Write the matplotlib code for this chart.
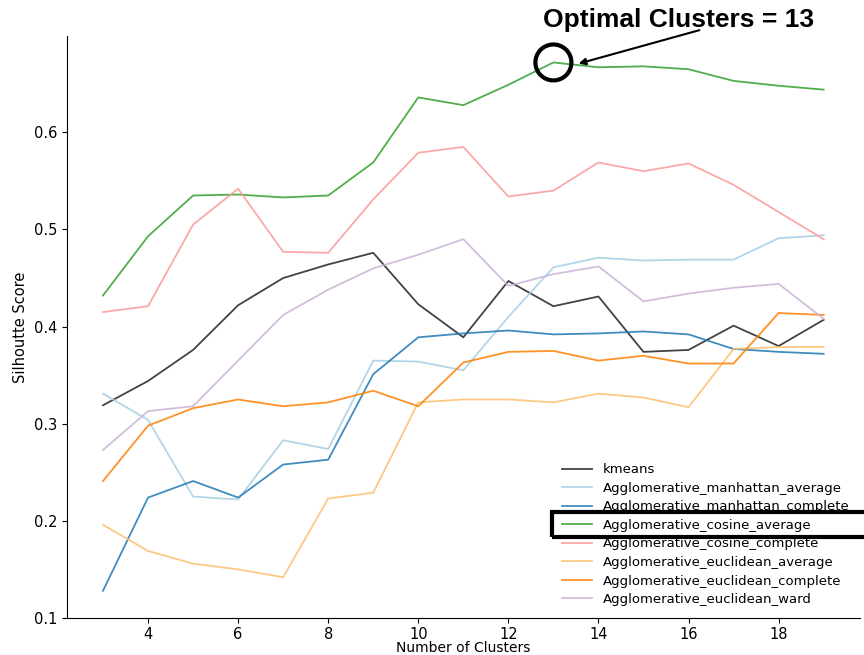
import matplotlib
matplotlib.use("Agg")
import matplotlib.pyplot as plt
from matplotlib.patches import Ellipse, Rectangle

# data
clusters = list(range(3, 20))

kmeans = [0.319, 0.344, 0.376, 0.422, 0.450, 0.464, 0.476, 0.423, 0.389,
          0.447, 0.421, 0.431, 0.374, 0.376, 0.401, 0.380, 0.407]
manhattan_average = [0.331, 0.304, 0.225, 0.222, 0.283, 0.274, 0.365, 0.364, 0.355,
                     0.410, 0.461, 0.471, 0.468, 0.469, 0.469, 0.491, 0.494]
manhattan_complete = [0.128, 0.224, 0.241, 0.224, 0.258, 0.263, 0.351, 0.389, 0.393,
                      0.396, 0.392, 0.393, 0.395, 0.392, 0.377, 0.374, 0.372]
cosine_average = [0.432, 0.493, 0.535, 0.536, 0.533, 0.535, 0.569, 0.636, 0.628,
                  0.649, 0.672, 0.667, 0.668, 0.665, 0.653, 0.648, 0.644]
cosine_complete = [0.415, 0.421, 0.505, 0.542, 0.477, 0.476, 0.531, 0.579, 0.585,
                   0.534, 0.540, 0.569, 0.560, 0.568, 0.546, 0.518, 0.490]
euclidean_average = [0.196, 0.169, 0.156, 0.150, 0.142, 0.223, 0.229, 0.322, 0.325,
                     0.325, 0.322, 0.331, 0.327, 0.317, 0.377, 0.379, 0.379]
euclidean_complete = [0.241, 0.298, 0.316, 0.325, 0.318, 0.322, 0.334, 0.318, 0.363,
                      0.374, 0.375, 0.365, 0.370, 0.362, 0.362, 0.414, 0.412]
euclidean_ward = [0.273, 0.313, 0.318, 0.365, 0.412, 0.438, 0.460, 0.474, 0.490,
                  0.442, 0.454, 0.462, 0.426, 0.434, 0.440, 0.444, 0.408]

series = [
    ("kmeans", kmeans, "#222222"),
    ("Agglomerative_manhattan_average", manhattan_average, "#a6cee3"),
    ("Agglomerative_manhattan_complete", manhattan_complete, "#1f78b4"),
    ("Agglomerative_cosine_average", cosine_average, "#33a02c"),
    ("Agglomerative_cosine_complete", cosine_complete, "#fb9a99"),
    ("Agglomerative_euclidean_average", euclidean_average, "#fdbf6f"),
    ("Agglomerative_euclidean_complete", euclidean_complete, "#ff7f00"),
    ("Agglomerative_euclidean_ward", euclidean_ward, "#cab2d6"),
]

best_k = 13

fig = plt.figure(figsize=(8.64, 6.55), dpi=100)
ax = fig.add_axes([0.0775, 0.0565, 0.9175, 0.8885])

for name, vals, col in series:
    ax.plot(clusters, vals, color=col, lw=1.3, alpha=0.85, label=name)

ax.set_xticks([4, 6, 8, 10, 12, 14, 16, 18])
ax.set_yticks([0.1, 0.2, 0.3, 0.4, 0.5, 0.6])
ax.tick_params(labelsize=10.5)
ax.tick_params(axis="x", pad=3)
ax.set_xlabel("Number of Clusters", fontsize=10, labelpad=-1)
ax.set_ylabel("Silhoutte Score", fontsize=10.5)
ax.spines["top"].set_visible(False)
ax.spines["right"].set_visible(False)

ax.legend(loc="lower left", bbox_to_anchor=(0.609, 0.0), frameon=False,
          fontsize=9.5, labelspacing=0.42, handlelength=2.3)

# highlight of the best k
best_val = cosine_average[clusters.index(best_k)]
ax.add_patch(Ellipse((best_k, best_val), width=0.8, height=0.037,
                     fill=False, lw=3, ec="black", zorder=5))
ax.annotate("", xy=(13.5, best_val - 0.002), xytext=(16.3, 0.706),
            arrowprops=dict(arrowstyle="-|>", color="black", lw=1.5),
            annotation_clip=False)
fig.text(0.785, 0.969, "Optimal Clusters = %d" % best_k, fontsize=19,
         fontweight="bold", family="Liberation Sans", ha="center", va="center")

# box around the chosen method in the legend
fig.patches.append(Rectangle((552 / 864, 1 - 537 / 655), 320 / 864, 25 / 655,
                             fill=False, lw=3, ec="black",
                             transform=fig.transFigure, clip_on=False))

fig.savefig("out.png", dpi=100)
